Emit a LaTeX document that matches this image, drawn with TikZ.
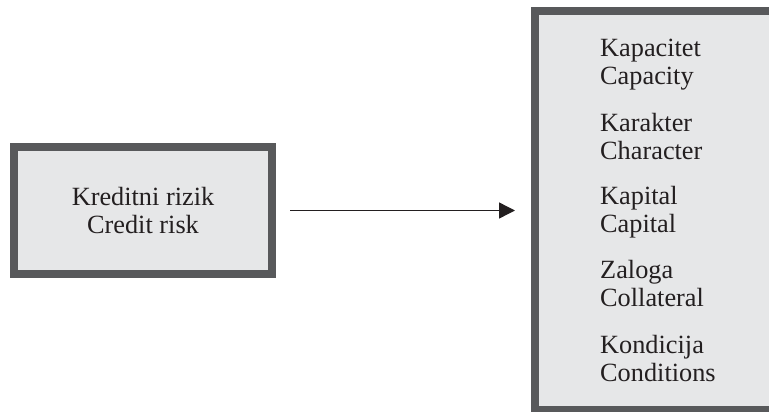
\documentclass[tikz,border=0pt]{standalone}
\usepackage{fontspec}
\setmainfont{Liberation Serif}
\usetikzlibrary{arrows.meta}

\definecolor{frame}{HTML}{58595B}
\definecolor{panelfill}{HTML}{E6E7E8}
\definecolor{ink}{HTML}{231F20}

\tikzset{
  panel/.style={draw=frame, fill=panelfill, line width=8pt, inner sep=0pt},
  label/.style={font=\fontsize{26.3}{27.8}\selectfont, text=ink, inner sep=0pt, align=left},
  link/.style={draw=ink, line width=1.4pt, -{Triangle[length=16pt,width=16pt]}}
}

\begin{document}
\begin{tikzpicture}[x=1pt, y=-1pt]
  \useasboundingbox (0,0) rectangle (769,412);
  \clip (0,0) rectangle (769,412);

  % left panel: the risk
  \node[panel, anchor=north west, minimum width=258pt, minimum height=127pt,
        label, align=center] (risk) at (10,143)
        {Kreditni rizik\\Credit risk};

  % right panel: the five factors (runs off the page edge)
  \node[panel, anchor=north west, minimum width=262pt, minimum height=399pt]
        (factors) at (530.5,7) {};

  % each group is anchored at the baseline of its second line
  \node[label, anchor=base west] (g1) at (600,84.5)  {Kapacitet\\Capacity};
  \node[label, anchor=base west] (g2) at (600,159.5) {Karakter\\Character};
  \node[label, anchor=base west] (g3) at (600,232.5) {Kapital\\Capital};
  \node[label, anchor=base west] (g4) at (600,306.5) {Zaloga\\Collateral};
  \node[label, anchor=base west] (g5) at (600,381)   {Kondicija\\Conditions};

  % connector
  \draw[link, shorten <=14pt, shorten >=15.5pt]
        (risk.east) -- (factors.west |- risk.east);
\end{tikzpicture}
\end{document}
